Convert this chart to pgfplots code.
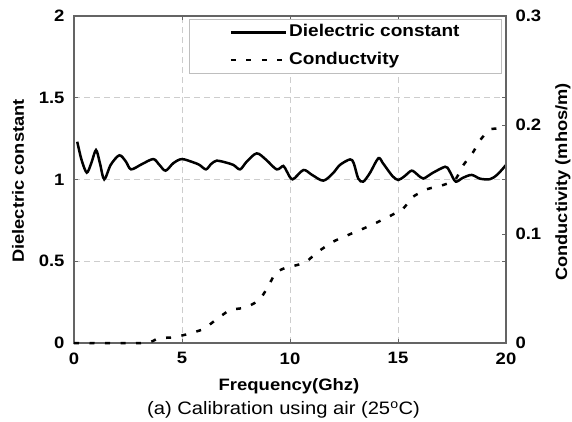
\documentclass[border=0pt]{standalone}
\usepackage{pgfplots}
\pgfplotsset{compat=1.18}
\usepackage{fontspec}
\setmainfont{Liberation Sans}[FakeStretch=1.12]
\definecolor{axgray}{RGB}{100,100,100}
\definecolor{gridgray}{RGB}{205,205,205}
\definecolor{leggray}{RGB}{190,190,190}
\begin{document}
\begin{tikzpicture}[x=1pt,y=1pt]
\useasboundingbox (0,0) rectangle (572,421);
\pgfplotsset{
  base/.style={
    at={(74pt,78pt)}, anchor=south west,
    width=432pt, height=327pt, scale only axis,
    xmin=0, xmax=20,
    axis line style={draw=axgray, line width=1.6pt},
    tick style={draw=axgray, line width=1pt},
    tick align=inside, major tick length=4pt,
    ticklabel style={font=\fontsize{16.5}{18}\selectfont\bfseries},
    /pgf/number format/assume math mode=true,
    clip=false,
  }
}
\begin{axis}[base,
  ymin=0, ymax=2,
  xtick={0,5,10,15,20}, ytick={0,0.5,1,1.5,2},
  grid=major,
  major grid style={draw=gridgray, line width=0.9pt, dash pattern=on 6pt off 4pt},
  yticklabel style={xshift=-6pt},
  xticklabel style={yshift=-6pt},
  legend style={at={(0.9907,0.9908)}, anchor=north east, draw=leggray, line width=0.9pt,
    fill=white, inner xsep=40pt, inner ysep=4.5pt, row sep=10pt,
    font=\fontsize{17}{19}\selectfont\bfseries,
    nodes={inner xsep=2pt, inner ysep=1pt, text height=12pt, text depth=3.5pt}},
  legend cell align=left,
  legend image code/.code={\draw[#1] (0pt,0pt) -- (55pt,0pt);},
]
\addplot[black, line width=2.5pt, smooth, tension=0.5] coordinates {
(0.15,1.231) (0.35,1.12) (0.59,1.042) (0.8,1.10) (1.02,1.18) (1.2,1.10)
(1.40,1.001) (1.7,1.09) (2.10,1.148) (2.4,1.11) (2.64,1.062) (3.13,1.093)
(3.67,1.125) (3.95,1.09) (4.24,1.054) (4.6,1.10) (4.99,1.125) (5.52,1.105)
(5.8,1.09) (6.11,1.062) (6.35,1.095) (6.6,1.115) (7.0,1.105) (7.38,1.089)
(7.69,1.062) (8.0,1.11) (8.46,1.160) (8.9,1.12) (9.38,1.062) (9.69,1.083)
(9.85,1.05) (10.12,1.001) (10.62,1.058) (11.0,1.03) (11.54,0.993) (12.0,1.04)
(12.31,1.089) (12.78,1.123) (12.95,1.10) (13.16,1.006) (13.39,0.987) (13.7,1.04)
(14.09,1.13) (14.3,1.10) (14.47,1.069) (14.75,1.02) (15.01,0.997) (15.3,1.02)
(15.63,1.054) (15.9,1.03) (16.17,1.006) (16.6,1.04) (17.18,1.078) (17.35,1.06)
(17.44,1.038) (17.67,0.987) (18.0,1.01) (18.41,1.028) (18.8,1.005) (19.26,1.002)
(19.6,1.03) (20.0,1.089)
};
\addlegendentry{Dielectric constant}
\addlegendimage{black, line width=2.5pt, dash pattern=on 5pt off 10.5pt}
\addlegendentry{Conductvity}
\end{axis}
\begin{axis}[base,
  ymin=0, ymax=0.3,
  axis y line*=right, axis x line=none,
  ytick={0,0.1,0.2,0.3},
  yticklabel style={xshift=6pt},
]
\addplot[black, line width=2.5pt, dash pattern=on 5pt off 10.5pt, smooth, tension=0.3] coordinates {
(0,0) (3.3,0) (3.9,0.0043) (4.6,0.0052) (5.29,0.0083) (5.99,0.0128) (6.6,0.0217)
(7.22,0.0303) (7.92,0.0324) (8.58,0.0394) (9.0,0.0523) (9.35,0.0648) (9.92,0.070)
(10.0,0.070) (10.69,0.0737) (11.3,0.0838) (12.0,0.093) (12.62,0.0985) (13.32,0.1043)
(13.94,0.1098) (14.63,0.1165) (15.25,0.1235) (15.68,0.134) (16.33,0.141) (17.1,0.145)
(17.64,0.1495) (18.02,0.163) (18.49,0.1755) (18.8,0.186) (19.26,0.196) (20.0,0.197)
};
\end{axis}
\node[rotate=90, font=\fontsize{16.3}{18}\selectfont\bfseries] at (18,240) {Dielectric constant};
\node[rotate=90, font=\fontsize{16.3}{18}\selectfont\bfseries] at (563,239) {Conductivity (mhos/m)};
\node[font=\fontsize{16.5}{18}\selectfont\bfseries] at (289,35) {Frequency(Ghz)};
\node[font=\fontsize{18}{20}\selectfont] at (283.5,11) {(a) Calibration using air (25\textsuperscript{o}C)};
\end{tikzpicture}
\end{document}
